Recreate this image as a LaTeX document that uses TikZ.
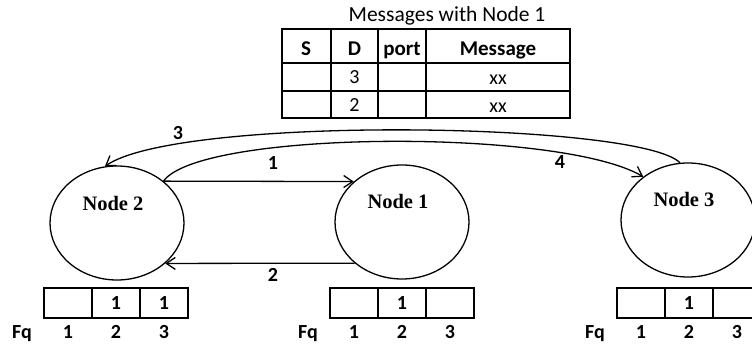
\documentclass[tikz,border=0pt]{standalone}
\usepackage{fontspec}
\setmainfont{Carlito}
\newfontfamily\tnr{Liberation Serif}
\usetikzlibrary{shapes.geometric,arrows.meta}

\tikzset{
  host/.style={draw, ellipse, line width=1.3pt, minimum width=134pt, minimum height=114pt, inner sep=0pt},
  hostname/.style={font=\tnr\bfseries\fontsize{20.5}{22}\selectfont},
  lbl/.style={font=\bfseries\fontsize{20}{22}\selectfont, text height=13pt, text depth=0pt},
  head/.style={font=\bfseries\fontsize{21}{22}\selectfont, text height=13.5pt, text depth=0pt},
  entry/.style={font=\fontsize{20}{22}\selectfont, text height=13pt, text depth=0pt},
  link/.style={line width=1.3pt, -{Straight Barb[length=9pt,width=12pt]}},
  rule/.style={line width=2pt},
}

\begin{document}
\begin{tikzpicture}[x=1pt,y=-1pt]
\useasboundingbox (0,0) rectangle (752,345);

% message table of node 1
\node[font=\fontsize{21.5}{24}\selectfont] (title) at (447,16) {Messages with Node 1};
\draw[rule] (282,29) rectangle (570,118);
\draw[rule] (282,63) -- (570,63) (282,91) -- (570,91);
\draw[rule] (331,29) -- (331,118) (378,29) -- (378,118) (426,29) -- (426,118);
\node[head] (hs) at (306,49) {S};
\node[head] (hd) at (354.5,49) {D};
\node[head] (hp) at (402,49) {port};
\node[head] (hm) at (498,49) {Message};
\node[entry] (d1) at (354.5,77) {3};
\node[entry] (m1) at (498,78) {xx};
\node[entry] (d2) at (354.5,104.5) {2};
\node[entry] (m2) at (498,105.5) {xx};

% the three nodes
\node[host] (n2) at (117,223) {};
\node[host] (n1) at (402,222) {};
\node[host] (n3) at (688,220) {};
\node[hostname] (n2txt) at (113,203) {Node 2};
\node[hostname] (n1txt) at (398,201) {Node 1};
\node[hostname] (n3txt) at (684,199) {Node 3};

% messages
\draw[link] (n2.42) -- (n1.140);
\draw[link] (n1.221) -- (n2.-40);
\draw[link] (n3.98) .. controls (640,122) and (180,115) .. (n2.102);
\draw[link] (n2.42) .. controls (200,130) and (560,128) .. (n3.136);
\node[lbl] (l1) at (273,163) {1};
\node[lbl] (l2) at (273,275) {2};
\node[lbl] (l3) at (178,133) {3};
\node[lbl] (l4) at (560,162) {4};

% frequency boxes
\foreach \x/\b/\c [count=\k] in {44/1/1, 330/1/{}, 617/1/{}} {
  \draw[rule] (\x,288) rectangle ++(144,30) (\x+48,288) -- ++(0,30) (\x+96,288) -- ++(0,30);
  \node[lbl] (fq\k b) at (\x+72,303) {\b};
  \node[lbl] (fq\k c) at (\x+120,303) {\c};
  \node[lbl] (fq\k) at (\x-22,332) {Fq};
  \foreach \i in {1,2,3}
    \node[lbl] (fq\k-\i) at (\x-24+48*\i,332) {\i};
}
\end{tikzpicture}
\end{document}
